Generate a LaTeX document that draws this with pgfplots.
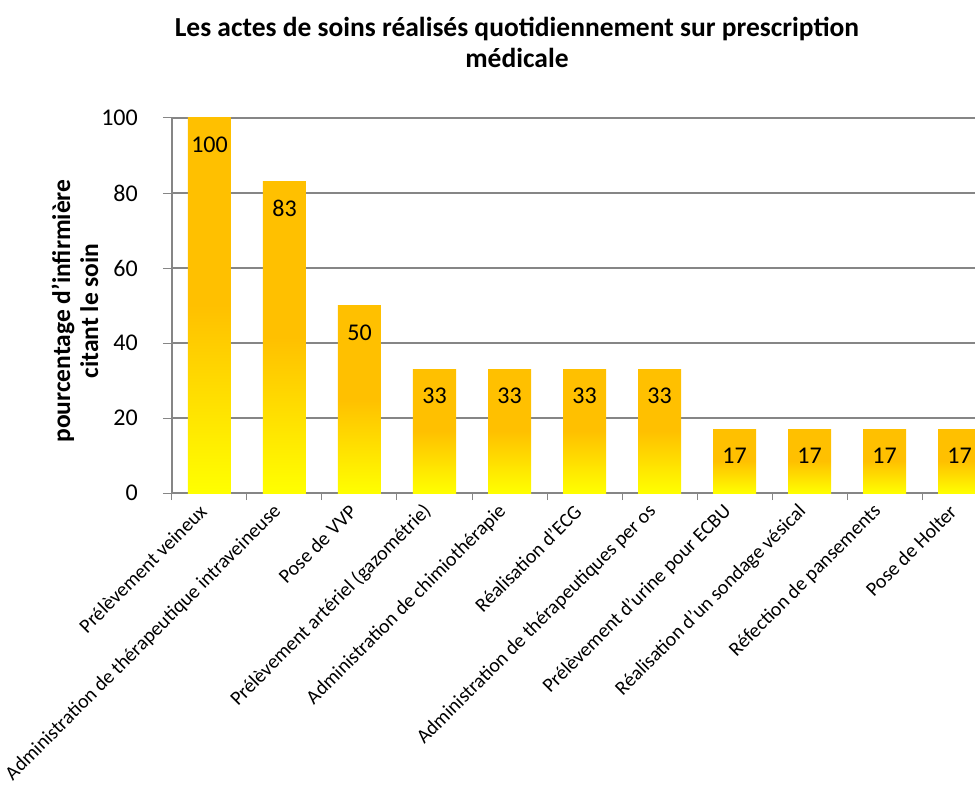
\documentclass[border=0pt]{standalone}
\usepackage{pgfplots}
\pgfplotsset{compat=1.18}
\usepackage{fontspec}
\setmainfont{Carlito}
\definecolor{axgray}{HTML}{868686}
\definecolor{barorange}{HTML}{FFC000}
\definecolor{baryellow}{HTML}{FFFF00}
\pgfplotsset{gbar/.style={ybar, bar width=43pt, bar shift=0pt, draw=none, top color=barorange, bottom color=baryellow, middle color=barorange}}
\begin{document}
\begin{tikzpicture}[x=1pt,y=1pt]
\useasboundingbox (-172,-297) rectangle (803,493);
\begin{axis}[at={(0,0)}, anchor=south west, scale only axis,
  width=825pt, height=375pt,
  xmin=-0.5, xmax=10.5, ymin=0, ymax=100,
  axis x line*=bottom, axis y line*=left,
  axis line style={axgray, line width=1.2pt},
  xtick={0,...,10},
  xticklabels={Prélèvement veineux, Administration de thérapeutique intraveineuse, Pose de VVP, Prélèvement artériel (gazométrie), Administration de chimiothérapie, Réalisation d'ECG, Administration de thérapeutiques per os, Prélèvement d'urine pour ECBU, Réalisation d'un sondage vésical, Réfection de pansements, Pose de Holter},
  major x tick style={draw=none},
  minor xtick={-0.5,0.5,...,10.5},
  tick align=outside,
  major tick length=9pt, minor tick length=7pt,
  tick style={axgray, line width=1pt},
  ytick={0,20,...,100},
  ymajorgrids, grid style={axgray, line width=1.2pt},
  /pgf/number format/assume math mode=true,
  yticklabel style={font=\fontsize{24}{28}\selectfont, inner sep=0pt, xshift=-25pt},
  xticklabel style={rotate=45, anchor=east, font=\fontsize{20}{24}\selectfont, inner sep=9pt},
  nodes near coords,
  every node near coord/.append style={anchor=center, yshift=-27pt, font=\fontsize{24}{28}\selectfont, black},
]
\addplot[gbar] coordinates {(0,100)};
\addplot[gbar] coordinates {(1,83)};
\addplot[gbar] coordinates {(2,50)};
\addplot[gbar] coordinates {(3,33)};
\addplot[gbar] coordinates {(4,33)};
\addplot[gbar] coordinates {(5,33)};
\addplot[gbar] coordinates {(6,33)};
\addplot[gbar] coordinates {(7,17)};
\addplot[gbar] coordinates {(8,17)};
\addplot[gbar] coordinates {(9,17)};
\addplot[gbar] coordinates {(10,17)};
\end{axis}
\node[font=\bfseries\fontsize{27.5}{31}\selectfont, align=center] at (345,451) {Les actes de soins réalisés quotidiennement sur prescription\\médicale};
\node[rotate=90, font=\bfseries\fontsize{25.5}{28}\selectfont, align=center] at (-97,182) {pourcentage d'infirmière\\citant le soin};
\end{tikzpicture}
\end{document}
